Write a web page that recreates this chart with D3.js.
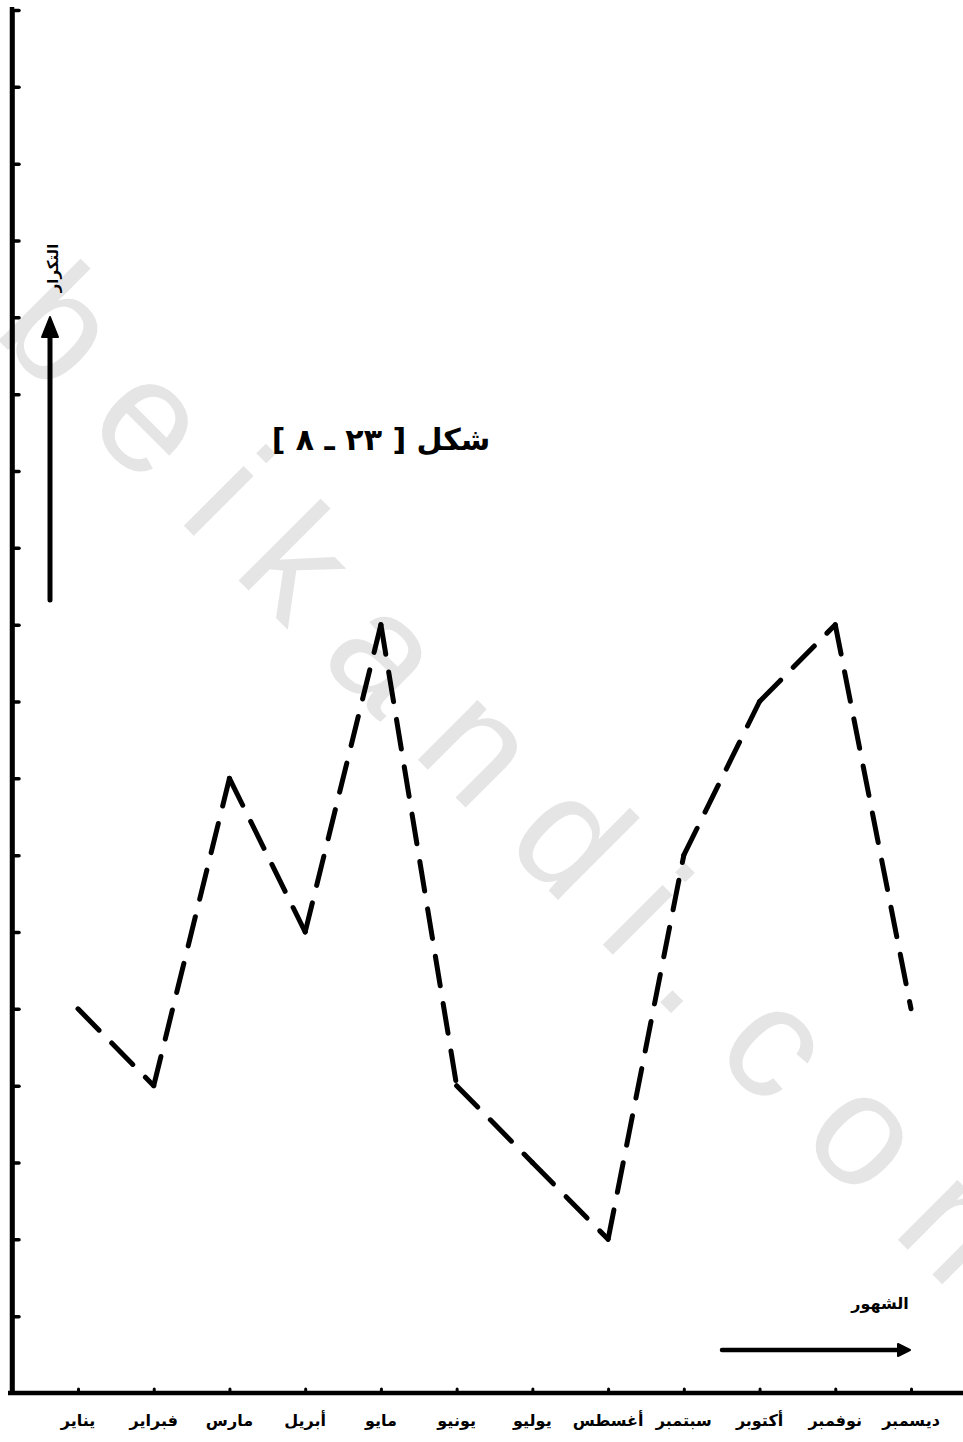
<!DOCTYPE html>
<html>
<head>
<meta charset="utf-8">
<script src="https://cdn.jsdelivr.net/npm/d3@7"></script>
<style>
html,body{margin:0;padding:0;background:#fff;}
svg{display:block;}
</style>
</head>
<body>
<svg id="chart" width="963" height="1442"></svg>
<script>
// ---- data ----
const months = ["يناير","فبراير","مارس","أبريل","مايو","يونيو","يوليو","أغسطس","سبتمبر","أكتوبر","نوفمبر","ديسمبر"];
const values = [5, 4, 8, 6, 10, 4, 3, 2, 7, 9, 10, 5];
const yTickValues = [1,2,3,4,5,6,7,8,9,10,11,12,13,14,15,16,17,18];
const titleText = "شكل [ ٢٣ ـ ٨ ]";
const yLabel = "التكرار";
const xLabel = "الشهور";
const watermark = "beikandi.com";

// ---- chart ----
const W = 963, H = 1442;
const svg = d3.select("#chart");
const arabicFont = "'DejaVu Sans', sans-serif";

const x = d3.scalePoint().domain(months).range([78, 911]);
const y = d3.scaleLinear().domain([0, 18]).range([1393, 10]);

// watermark
svg.append("text")
  .attr("transform", "translate(-9,333) rotate(45)")
  .attr("x", 0).attr("y", 0)
  .attr("font-family", "'Liberation Sans', Arial, sans-serif")
  .attr("font-size", 160)
  .attr("letter-spacing", 42)
  .attr("fill", "#e5e5e5")
  .text(watermark);

// y axis
const yAxis = d3.axisLeft(y).tickValues(yTickValues).tickSizeInner(-7).tickSizeOuter(0).tickFormat("");
const gy = svg.append("g").attr("transform", "translate(12,0)").call(yAxis);
gy.select(".domain").attr("stroke", "#000").attr("stroke-width", 4.5);
gy.selectAll(".tick line").attr("stroke", "#000").attr("stroke-width", 3.5).attr("stroke-linecap", "round");
svg.append("line").attr("x1", 12).attr("x2", 12).attr("y1", 7).attr("y2", y(0))
  .attr("stroke", "#000").attr("stroke-width", 4.5);

// x axis
svg.append("line").attr("x1", 8).attr("x2", W).attr("y1", y(0)).attr("y2", y(0))
  .attr("stroke", "#000").attr("stroke-width", 4.5);
const xAxis = d3.axisBottom(x).tickSizeInner(-4).tickSizeOuter(0).tickFormat("");
const gx = svg.append("g").attr("transform", `translate(0,${y(0)})`).call(xAxis);
gx.select(".domain").remove();
gx.selectAll(".tick line").attr("stroke", "#000").attr("stroke-width", 3).attr("stroke-linecap", "round");

// month labels
svg.append("g").selectAll("text").data(months).join("text")
  .attr("x", d => x(d))
  .attr("y", 1426)
  .attr("text-anchor", "middle")
  .attr("direction", "rtl")
  .style("direction", "rtl")
  .attr("font-family", arabicFont)
  .attr("font-weight", "bold")
  .attr("font-size", 16)
  .attr("fill", "#000")
  .text(d => d);

// dashed line, each segment drawn from its own vertex
const pts = months.map((m, i) => [x(m), y(values[i])]);
const line = d3.line();
const segs = d3.pairs(pts);
svg.append("g").selectAll("path").data(segs).join("path")
  .attr("d", d => line(d))
  .attr("fill", "none")
  .attr("stroke", "#000")
  .attr("stroke-width", 5)
  .attr("stroke-linecap", "round")
  .attr("stroke-dasharray", "30,18");

// title
svg.append("text")
  .attr("x", 381).attr("y", 450)
  .attr("text-anchor", "middle")
  .style("direction", "rtl")
  .attr("font-family", arabicFont)
  .attr("font-weight", "bold")
  .attr("font-size", 30)
  .attr("fill", "#000")
  .text(titleText);

// y label + arrow
svg.append("text")
  .attr("transform", "translate(53,268) rotate(-90)")
  .attr("text-anchor", "middle")
  .attr("dominant-baseline", "middle")
  .style("direction", "rtl")
  .attr("font-family", arabicFont)
  .attr("font-weight", "bold")
  .attr("font-size", 15)
  .attr("fill", "#000")
  .text(yLabel);
svg.append("line").attr("x1", 50).attr("x2", 50).attr("y1", 600).attr("y2", 332)
  .attr("stroke", "#000").attr("stroke-width", 5).attr("stroke-linecap", "round");
svg.append("path").attr("d", "M50,317 L58,337 L42,337 Z").attr("fill", "#000")
  .attr("stroke", "#000").attr("stroke-width", 2).attr("stroke-linejoin", "round");

// x label + arrow
svg.append("text")
  .attr("x", 880).attr("y", 1309)
  .attr("text-anchor", "middle")
  .style("direction", "rtl")
  .attr("font-family", arabicFont)
  .attr("font-weight", "bold")
  .attr("font-size", 16)
  .attr("fill", "#000")
  .text(xLabel);
svg.append("line").attr("x1", 722).attr("x2", 900).attr("y1", 1350).attr("y2", 1350)
  .attr("stroke", "#000").attr("stroke-width", 4.5).attr("stroke-linecap", "round");
svg.append("path").attr("d", "M910,1350 L898,1344 L898,1356 Z").attr("fill", "#000")
  .attr("stroke", "#000").attr("stroke-width", 2).attr("stroke-linejoin", "round");
</script>
</body>
</html>
